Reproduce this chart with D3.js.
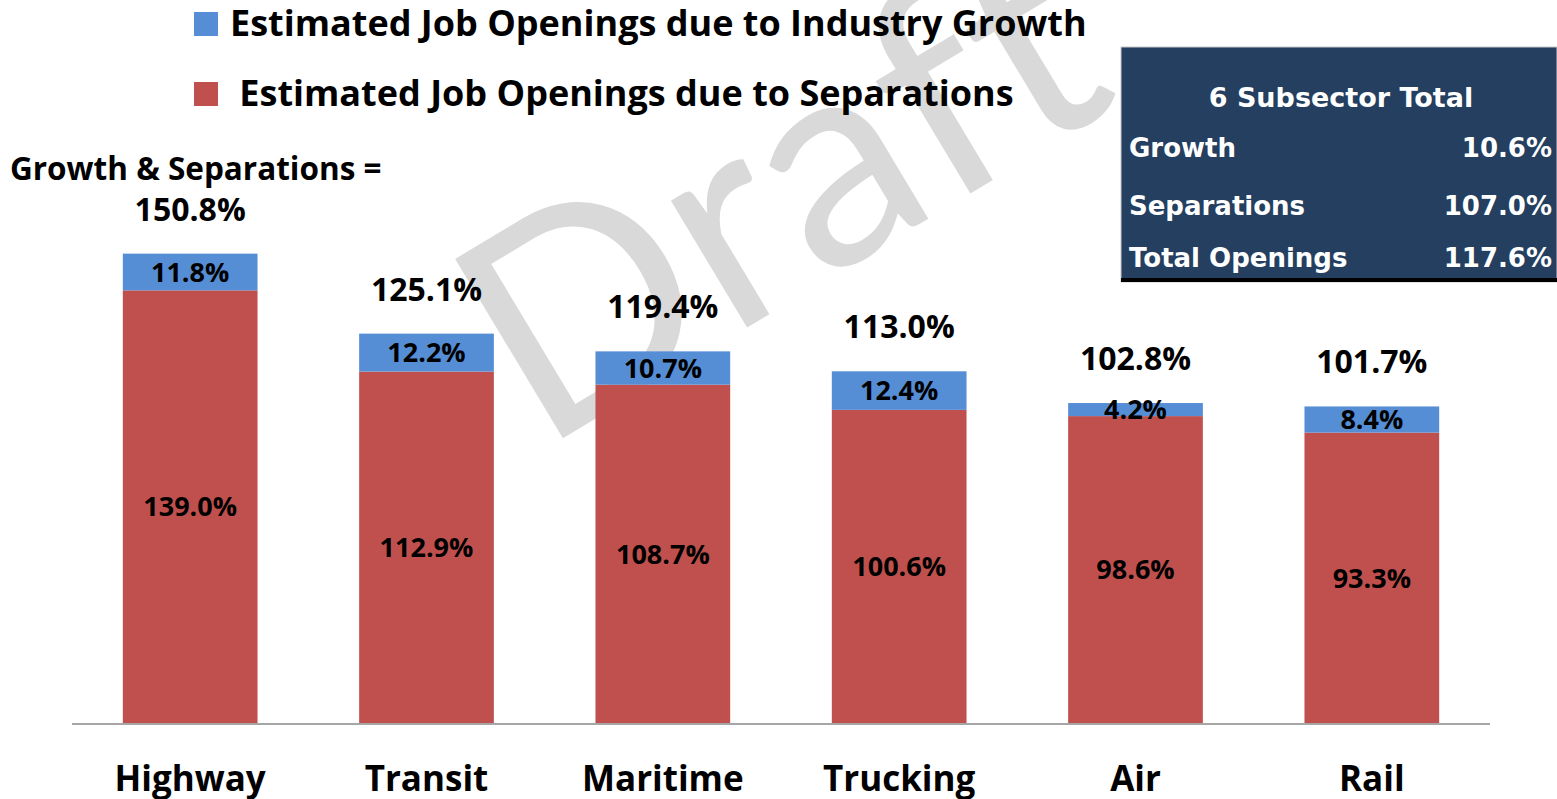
<!DOCTYPE html>
<html>
<head>
<meta charset="utf-8">
<script src="https://cdn.jsdelivr.net/npm/d3@7"></script>
<style>
  body { margin: 0; background: #fff; }
  text { font-family: "Open Sans", Lato, sans-serif; font-weight: bold; fill: #000; }
</style>
</head>
<body>
<div id="chart"></div>
<script>
// datos
const categories  = ["Highway", "Transit", "Maritime", "Trucking", "Air", "Rail"];
const growth      = [11.8, 12.2, 10.7, 12.4, 4.2, 8.4];
const separations = [139.0, 112.9, 108.7, 100.6, 98.6, 93.3];
const seriesNames = ["Estimated Job Openings due to Industry Growth", " Estimated Job Openings due to Separations"];

const summaryTitle  = "6 Subsector Total";
const summaryLabels = ["Growth", "Separations", "Total Openings"];
const summaryValues = [10.6, 107.0, 117.6];

const width = 1557, height = 799;
const blue = "#558ED5", red = "#C0504D";
const fmt = d => d.toFixed(1) + "%";

const svg = d3.select("#chart").append("svg")
  .attr("width", width)
  .attr("height", height);

// marca de agua, detras de todo
svg.append("text")
  .attr("transform", "translate(540,452) rotate(-31)")
  .style("font-family", "Lato, sans-serif")
  .style("font-weight", "normal")
  .style("font-size", "292px")
  .style("letter-spacing", "2px")
  .style("fill", "#d9d9d9")
  .text("Draft");

// escalas
const x = d3.scaleBand()
  .domain(categories)
  .range([72, 1490])
  .paddingInner(0.43)
  .paddingOuter(0.215);

const y = d3.scaleLinear()
  .domain([0, 160])
  .range([723, 225]);

const rows = categories.map((c, i) => ({cat: c, sep: separations[i], growth: growth[i]}));
const stack = d3.stack().keys(["sep", "growth"])(rows);
const colors = {sep: red, growth: blue};

// barras apiladas
const layer = svg.selectAll(".layer")
  .data(stack)
  .enter().append("g")
  .attr("class", "layer")
  .attr("fill", d => colors[d.key]);

layer.selectAll("rect")
  .data(d => d)
  .enter().append("rect")
  .attr("x", d => x(d.data.cat))
  .attr("y", d => y(d[1]))
  .attr("width", x.bandwidth())
  .attr("height", d => y(d[0]) - y(d[1]));

// linea del eje
svg.append("line")
  .attr("x1", 72).attr("x2", 1490)
  .attr("y1", y(0) + 1).attr("y2", y(0) + 1)
  .attr("stroke", "#a6a6a6")
  .attr("stroke-width", 2);

// etiquetas de categoria
svg.selectAll(".cat")
  .data(categories)
  .enter().append("text")
  .attr("class", "cat")
  .attr("x", d => x(d) + x.bandwidth() / 2)
  .attr("y", 791)
  .attr("text-anchor", "middle")
  .style("font-size", "35px")
  .text(d => d);

// etiquetas dentro de los segmentos
layer.selectAll(".seg")
  .data(d => d)
  .enter().append("text")
  .attr("class", "seg")
  .attr("x", d => x(d.data.cat) + x.bandwidth() / 2)
  .attr("y", d => (y(d[0]) + y(d[1])) / 2)
  .attr("dy", "0.36em")
  .attr("text-anchor", "middle")
  .style("font-size", "27px")
  .text(function(d) { return fmt(d[1] - d[0]); });

// totales encima de cada barra
svg.selectAll(".total")
  .data(rows)
  .enter().append("text")
  .attr("class", "total")
  .attr("x", d => x(d.cat) + x.bandwidth() / 2)
  .attr("y", d => y(d.sep + d.growth) - 33)
  .attr("text-anchor", "middle")
  .style("font-size", "32px")
  .text(d => fmt(d.sep + d.growth));

svg.append("text")
  .attr("x", 10)
  .attr("y", 180)
  .style("font-size", "31.5px")
  .text("Growth & Separations =");

// leyenda
const legend = svg.selectAll(".legend")
  .data(seriesNames)
  .enter().append("g")
  .attr("class", "legend")
  .attr("transform", (d, i) => `translate(194,${12 + i * 70})`);

legend.append("rect")
  .attr("width", 24).attr("height", 24)
  .attr("fill", (d, i) => i === 0 ? blue : red);

legend.append("text")
  .attr("x", 36)
  .attr("y", 24)
  .style("font-size", "36px")
  .style("white-space", "pre")
  .text(d => d);

// cuadro resumen
const box = svg.append("g").attr("transform", "translate(1121,47)");
box.append("rect")
  .attr("width", 436).attr("height", 235)
  .attr("fill", "#243F60")
  .attr("stroke", "#c8c8c8")
  .attr("stroke-width", 1);
box.append("line")
  .attr("x1", 0).attr("x2", 436)
  .attr("y1", 233).attr("y2", 233)
  .attr("stroke", "#000")
  .attr("stroke-width", 4);

box.append("text")
  .attr("x", 220).attr("y", 60)
  .attr("text-anchor", "middle")
  .style("font-family", "'DejaVu Sans', sans-serif")
  .style("font-size", "27px")
  .style("fill", "#fff")
  .text(summaryTitle);

const rowY = [110, 168, 220];
summaryLabels.forEach((lab, i) => {
  box.append("text")
    .attr("x", 8).attr("y", rowY[i])
    .style("font-family", "'DejaVu Sans', sans-serif")
    .style("font-size", "26px")
    .style("fill", "#fff")
    .text(lab);
  box.append("text")
    .attr("x", 431).attr("y", rowY[i])
    .attr("text-anchor", "end")
    .style("font-family", "'DejaVu Sans', sans-serif")
    .style("font-size", "26px")
    .style("fill", "#fff")
    .text(fmt(summaryValues[i]));
});
</script>
</body>
</html>
